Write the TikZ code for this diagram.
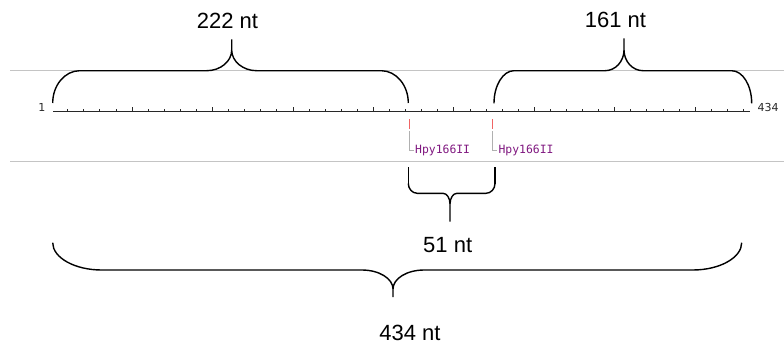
\documentclass[tikz,border=0pt]{standalone}
\usepackage{fontspec}
\setmainfont{Liberation Sans}
\newfontfamily\rulerfont{DejaVu Sans}
\newfontfamily\enzfont{DejaVu Sans Mono}
\definecolor{guide}{RGB}{196,196,196}
\definecolor{enz}{RGB}{128,24,128}
\definecolor{cutred}{RGB}{240,100,100}
\definecolor{leader}{RGB}{176,176,176}
\definecolor{rulerc}{RGB}{40,40,40}
% #1 x1, #2 x2, #3 y0 (ends), #4 yf (flat), #5 xt, #6 yt (tip), #7 e, #8 t, #9 ys (stem start)
\newcommand\cbrace[9]{%
  \pgfmathsetmacro\bA{#1+#7}%
  \pgfmathsetmacro\bB{#2-#7}%
  \pgfmathsetmacro\bC{#5-#8}%
  \pgfmathsetmacro\bD{#5+#8}%
  \pgfmathsetmacro\bE{#3+0.55*(#4-#3)}%
  \pgfmathsetmacro\bF{#1+0.45*#7}%
  \pgfmathsetmacro\bG{#2-0.45*#7}%
  \pgfmathsetmacro\bH{#5-0.45*#8}%
  \pgfmathsetmacro\bI{#5+0.45*#8}%
  \pgfmathsetmacro\bJ{#9+0.55*(#4-#9)}%
  \draw[bracestyle] (#1,#3) .. controls (#1,\bE) and (\bF,#4) .. (\bA,#4)
    -- (\bC,#4) .. controls (\bH,#4) and (#5,\bJ) .. (#5,#9) -- (#5,#6)
    (#5,#9) .. controls (#5,\bJ) and (\bI,#4) .. (\bD,#4)
    -- (\bB,#4) .. controls (\bG,#4) and (#2,\bE) .. (#2,#3);%
}
\begin{document}
\begin{tikzpicture}[x=1bp,y=-1bp,
  bracestyle/.style={line width=1.4bp, black, line join=round},
  biglabel/.style={inner sep=0pt, font=\fontsize{22bp}{26bp}\selectfont, text=black},
  rulerlabel/.style={inner sep=0pt, font=\rulerfont\fontsize{11bp}{13bp}\selectfont, text=rulerc},
  enzlabel/.style={inner sep=0pt, font=\enzfont\fontsize{11.4bp}{13bp}\selectfont, text=enz},
  guideline/.style={guide, line width=1bp},
  cutmark/.style={cutred, line width=1.5bp},
  leaderline/.style={leader, line width=0.9bp}]
\useasboundingbox (0,0) rectangle (784,345);

% guide lines
\draw[guideline] (10,70.7) -- (784,70.7);
\draw[guideline] (10,161.7) -- (784,161.7);

% ruler
\coordinate (rs) at (53.3,111.7);
\coordinate (re) at (750,111.7);
\draw[rulerc, line width=1.1bp] (rs) -- (re);
\foreach \p in {10,20,...,430} {
  \pgfmathsetmacro\xx{53.3+(\p-1)*1.6089}
  \pgfmathsetmacro\hh{mod(\p,50)==0 ? 5 : 2.5}
  \draw[rulerc, line width=1bp] (\xx,111.7) -- (\xx,111.7-\hh);
}
\node[rulerlabel, anchor=base east] (r1) at (45.5,111.7) {1};
\node[rulerlabel, anchor=base west] (r434) at (757.5,111.7) {434};

% enzyme sites
\coordinate (c1t) at (409.3,119.3);
\coordinate (c1b) at (409.3,129.3);
\coordinate (c1l) at (409.3,131.3);
\node[enzlabel, anchor=base west] (e1) at (415,153.3) {Hpy166II};
\draw[cutmark] (c1t) -- (c1b);
\draw[leaderline, shorten >=1.5bp] (c1l) |- (e1.west);

\coordinate (c2t) at (492.7,119.3);
\coordinate (c2b) at (492.7,129.3);
\coordinate (c2l) at (492.7,131.3);
\node[enzlabel, anchor=base west] (e2) at (498.4,153.3) {Hpy166II};
\draw[cutmark] (c2t) -- (c2b);
\draw[leaderline, shorten >=1.5bp] (c2l) |- (e2.west);

% braces
\cbrace{52.7}{408.3}{103}{70.7}{231.7}{39.3}{27}{25}{50}
\cbrace{494}{751.7}{103.3}{70.7}{624}{38.3}{20}{19}{50}
\draw[bracestyle] (408.3,167.3) -- (408.3,183.5);
\draw[bracestyle] (495,167.3) -- (495,183.5);
\cbrace{408.3}{495}{183.5}{193.3}{450}{221.7}{9}{7}{204}
\cbrace{52.7}{741.7}{242.7}{270}{393}{297}{49}{31}{289}

% labels
\node[biglabel, anchor=base] (l222) at (227.5,28) {222 nt};
\node[biglabel, anchor=base] (l161) at (615.5,27) {161 nt};
\node[biglabel, anchor=base] (l51) at (447.7,252) {51 nt};
\node[biglabel, anchor=base] (l434) at (410,340) {434 nt};
\end{tikzpicture}
\end{document}
